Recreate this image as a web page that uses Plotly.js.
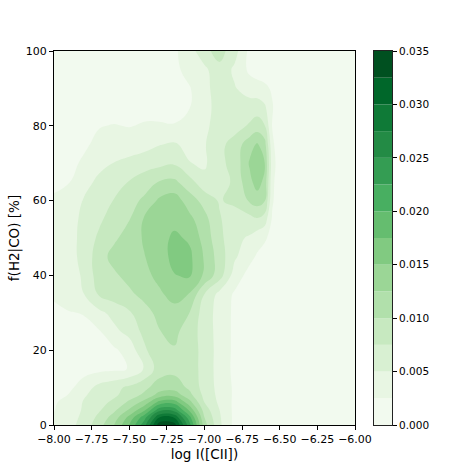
<!DOCTYPE html>
<html>
<head>
<meta charset="utf-8">
<script src="https://cdn.plot.ly/plotly-3.0.1.min.js"></script>
<style>
  html, body { margin: 0; padding: 0; background: #fff; }
  #chart { width: 471px; height: 471px; }
</style>
</head>
<body>
<div id="chart"></div>
<script>
// grid of the KDE surface
const logCII = [-8.0, -7.9, -7.8, -7.7, -7.6, -7.5, -7.4, -7.3, -7.2, -7.1, -7.0,
                -6.9, -6.8, -6.7, -6.65, -6.6, -6.55, -6.5, -6.4, -6.2, -6.0];
const fH2CO = [0, 2, 4, 6, 8, 10, 15, 20, 25, 30, 35, 40, 45, 50, 55, 60, 65, 70, 75, 80, 85, 90, 95, 100];

// one row per fH2CO value, one column per logCII value
const density = [
  [0.0030, 0.0042, 0.0060, 0.0090, 0.0125, 0.0175, 0.0240, 0.0340, 0.0335, 0.0235, 0.0110, 0.0055, 0.0018, 0.0013, 0.0012, 0.0011, 0.0010, 0.0010, 0.0008, 0.0006, 0.0005], // 0
  [0.0028, 0.0040, 0.0056, 0.0082, 0.0112, 0.0158, 0.0215, 0.0300, 0.0298, 0.0210, 0.0100, 0.0053, 0.0019, 0.0013, 0.0012, 0.0011, 0.0010, 0.0010, 0.0008, 0.0006, 0.0005], // 2
  [0.0024, 0.0038, 0.0053, 0.0072, 0.0095, 0.0128, 0.0170, 0.0240, 0.0238, 0.0170, 0.0088, 0.0050, 0.0019, 0.0013, 0.0012, 0.0011, 0.0010, 0.0010, 0.0008, 0.0006, 0.0005], // 4
  [0.0022, 0.0035, 0.0052, 0.0065, 0.0082, 0.0105, 0.0135, 0.0185, 0.0190, 0.0135, 0.0075, 0.0045, 0.0020, 0.0013, 0.0012, 0.0011, 0.0010, 0.0010, 0.0008, 0.0006, 0.0005], // 6
  [0.0019, 0.0026, 0.0048, 0.0058, 0.0070, 0.0088, 0.0105, 0.0135, 0.0140, 0.0108, 0.0068, 0.0043, 0.0021, 0.0013, 0.0012, 0.0011, 0.0010, 0.0010, 0.0008, 0.0006, 0.0005], // 8
  [0.0016, 0.0019, 0.0038, 0.0058, 0.0068, 0.0080, 0.0094, 0.0112, 0.0115, 0.0095, 0.0065, 0.0042, 0.0021, 0.0013, 0.0012, 0.0011, 0.0010, 0.0010, 0.0008, 0.0006, 0.0005], // 10
  [0.0012, 0.0013, 0.0015, 0.0018, 0.0020, 0.0026, 0.0052, 0.0088, 0.0092, 0.0085, 0.0068, 0.0038, 0.0020, 0.0014, 0.0012, 0.0011, 0.0010, 0.0010, 0.0008, 0.0006, 0.0005], // 15
  [0.0014, 0.0015, 0.0016, 0.0018, 0.0021, 0.0035, 0.0070, 0.0096, 0.0098, 0.0088, 0.0066, 0.0040, 0.0020, 0.0014, 0.0012, 0.0011, 0.0010, 0.0010, 0.0008, 0.0006, 0.0005], // 20
  [0.0017, 0.0018, 0.0020, 0.0023, 0.0044, 0.0058, 0.0082, 0.0099, 0.0106, 0.0088, 0.0064, 0.0040, 0.0020, 0.0014, 0.0012, 0.0011, 0.0010, 0.0010, 0.0008, 0.0006, 0.0005], // 25
  [0.0022, 0.0024, 0.0026, 0.0044, 0.0058, 0.0072, 0.0090, 0.0108, 0.0118, 0.0100, 0.0062, 0.0041, 0.0020, 0.0014, 0.0012, 0.0011, 0.0010, 0.0010, 0.0008, 0.0006, 0.0005], // 30
  [0.0027, 0.0035, 0.0050, 0.0078, 0.0088, 0.0095, 0.0108, 0.0122, 0.0132, 0.0124, 0.0075, 0.0042, 0.0022, 0.0016, 0.0014, 0.0013, 0.0012, 0.0011, 0.0008, 0.0006, 0.0005], // 35
  [0.0033, 0.0038, 0.0054, 0.0088, 0.0096, 0.0108, 0.0120, 0.0130, 0.0149, 0.0153, 0.0120, 0.0086, 0.0038, 0.0016, 0.0014, 0.0013, 0.0012, 0.0011, 0.0008, 0.0006, 0.0005], // 40
  [0.0034, 0.0042, 0.0057, 0.0090, 0.0108, 0.0118, 0.0124, 0.0138, 0.0158, 0.0156, 0.0122, 0.0088, 0.0054, 0.0032, 0.0022, 0.0016, 0.0013, 0.0011, 0.0008, 0.0006, 0.0005], // 45
  [0.0032, 0.0041, 0.0058, 0.0080, 0.0096, 0.0110, 0.0128, 0.0140, 0.0155, 0.0146, 0.0115, 0.0082, 0.0056, 0.0047, 0.0035, 0.0028, 0.0018, 0.0012, 0.0009, 0.0006, 0.0005], // 50
  [0.0031, 0.0042, 0.0055, 0.0070, 0.0088, 0.0099, 0.0128, 0.0140, 0.0142, 0.0132, 0.0108, 0.0078, 0.0056, 0.0066, 0.0072, 0.0062, 0.0022, 0.0011, 0.0009, 0.0006, 0.0005], // 55
  [0.0027, 0.0038, 0.0052, 0.0064, 0.0076, 0.0092, 0.0104, 0.0130, 0.0138, 0.0112, 0.0091, 0.0072, 0.0084, 0.0103, 0.0112, 0.0102, 0.0028, 0.0011, 0.0009, 0.0006, 0.0005], // 60
  [0.0022, 0.0024, 0.0038, 0.0058, 0.0068, 0.0076, 0.0090, 0.0101, 0.0105, 0.0085, 0.0058, 0.0058, 0.0082, 0.0118, 0.0136, 0.0118, 0.0030, 0.0012, 0.0009, 0.0006, 0.0005], // 65
  [0.0016, 0.0020, 0.0028, 0.0040, 0.0051, 0.0057, 0.0062, 0.0068, 0.0072, 0.0051, 0.0046, 0.0070, 0.0082, 0.0128, 0.0140, 0.0126, 0.0035, 0.0012, 0.0009, 0.0006, 0.0005], // 70
  [0.0014, 0.0018, 0.0022, 0.0030, 0.0034, 0.0037, 0.0042, 0.0049, 0.0053, 0.0042, 0.0048, 0.0068, 0.0085, 0.0115, 0.0128, 0.0110, 0.0030, 0.0010, 0.0008, 0.0006, 0.0005], // 75
  [0.0013, 0.0016, 0.0020, 0.0024, 0.0026, 0.0024, 0.0027, 0.0027, 0.0026, 0.0035, 0.0046, 0.0058, 0.0065, 0.0078, 0.0086, 0.0076, 0.0024, 0.0010, 0.0008, 0.0006, 0.0005], // 80
  [0.0011, 0.0012, 0.0013, 0.0015, 0.0016, 0.0017, 0.0018, 0.0018, 0.0019, 0.0024, 0.0043, 0.0058, 0.0056, 0.0062, 0.0064, 0.0054, 0.0027, 0.0010, 0.0008, 0.0006, 0.0005], // 85
  [0.0010, 0.0010, 0.0011, 0.0012, 0.0013, 0.0014, 0.0015, 0.0016, 0.0018, 0.0023, 0.0044, 0.0060, 0.0052, 0.0038, 0.0034, 0.0030, 0.0022, 0.0013, 0.0010, 0.0008, 0.0006], // 90
  [0.0009, 0.0009, 0.0010, 0.0011, 0.0012, 0.0013, 0.0014, 0.0016, 0.0018, 0.0035, 0.0044, 0.0068, 0.0045, 0.0020, 0.0015, 0.0013, 0.0012, 0.0011, 0.0010, 0.0008, 0.0006], // 95
  [0.0008, 0.0008, 0.0009, 0.0010, 0.0011, 0.0012, 0.0013, 0.0015, 0.0021, 0.0038, 0.0068, 0.0085, 0.0060, 0.0018, 0.0014, 0.0012, 0.0011, 0.0010, 0.0009, 0.0007, 0.0006]  // 100
];

const xTicks = [-8.0, -7.75, -7.5, -7.25, -7.0, -6.75, -6.5, -6.25, -6.0];
const yTicks = [0, 20, 40, 60, 80, 100];
const cbTicks = [0, 0.005, 0.01, 0.015, 0.02, 0.025, 0.03, 0.035];

// matplotlib "Greens", sampled at the middle of each of the 14 filled levels
const GREENS = [[247,252,245],[229,245,224],[199,233,192],[161,217,155],[116,196,118],
                [65,171,93],[35,139,69],[0,109,44],[0,68,27]];
function greensAt(t) {
  const p = t * (GREENS.length - 1);
  const i = Math.min(GREENS.length - 2, Math.floor(p));
  const f = p - i;
  const c = GREENS[i].map((v, k) => Math.round(v + (GREENS[i + 1][k] - v) * f));
  return 'rgb(' + c.join(',') + ')';
}
const nBands = 14;
const step = 0.0025;
const bandColors = [];
const bandBase = [];
for (let k = 0; k < nBands; k++) {
  bandColors.push(greensAt((k + 0.5) / nBands));
  bandBase.push(k * step);
}

// plotly picks band k at (k+1)/15 on the scale, so make it a step scale
const colorscale = [];
for (let k = 0; k < nBands; k++) {
  const lo = k === 0 ? 0 : (k + 0.5) / (nBands + 1);
  const hi = k === nBands - 1 ? 1 : (k + 1.5) / (nBands + 1);
  colorscale.push([lo, bandColors[k]]);
  colorscale.push([hi, bandColors[k]]);
}

const FAMILY = 'DejaVu Sans, sans-serif';
const tickFont = { family: FAMILY, size: 11, color: '#000' };
const titleFont = { family: FAMILY, size: 13.5, color: '#000' };

const kde = {
  type: 'contour',
  x: logCII,
  y: fH2CO,
  z: density,
  colorscale: colorscale,
  showscale: false,
  autocontour: false,
  contours: { start: 0, end: nBands * step, size: step, coloring: 'fill', showlines: false },
  line: { width: 0, smoothing: 1.3 },
  hoverinfo: 'skip'
};

// colorbar drawn as stacked bars so it runs exactly from 0 to 0.035
const colorbar = {
  type: 'bar',
  x: bandBase.map(() => 0),
  y: bandBase.map(() => step),
  base: bandBase,
  width: 1,
  marker: { color: bandColors, line: { width: 0 } },
  xaxis: 'x2',
  yaxis: 'y2',
  hoverinfo: 'skip'
};

const axisStyle = {
  ticks: 'outside',
  ticklen: 4,
  tickcolor: '#000',
  showline: true,
  mirror: true,
  linecolor: '#000',
  linewidth: 1,
  showgrid: false,
  zeroline: false,
  tickfont: tickFont
};

const layout = {
  width: 471,
  height: 471,
  margin: { l: 54, r: 79, t: 51, b: 46, pad: 0 },
  paper_bgcolor: '#fff',
  plot_bgcolor: '#fff',
  showlegend: false,
  xaxis: Object.assign({}, axisStyle, {
    domain: [0, 301 / 338],
    range: [-8, -6],
    tickvals: xTicks,
    tickformat: '.2f',
    title: { text: 'log I([CII])', font: titleFont, standoff: 4 }
  }),
  yaxis: Object.assign({}, axisStyle, {
    range: [0, 100],
    tickvals: yTicks,
    title: { text: 'f(H2|CO) [%]', font: titleFont, standoff: 3 }
  }),
  xaxis2: {
    domain: [320 / 338, 1],
    anchor: 'y2',
    range: [-0.5, 0.5],
    showticklabels: false,
    ticks: '',
    showline: true,
    mirror: true,
    linecolor: '#222',
    linewidth: 1,
    showgrid: false,
    zeroline: false
  },
  yaxis2: Object.assign({}, axisStyle, {
    anchor: 'x2',
    side: 'right',
    range: [0, nBands * step],
    tickvals: cbTicks,
    tickformat: '.3f',
    linecolor: '#222',
    tickfont: { family: FAMILY, size: 10.5, color: '#000' }
  })
};

Plotly.newPlot('chart', [kde, colorbar], layout, { staticPlot: true, displayModeBar: false });
</script>
</body>
</html>
